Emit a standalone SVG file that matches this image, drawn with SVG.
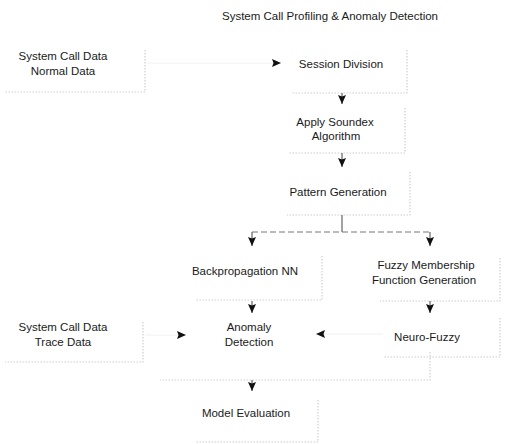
<svg xmlns="http://www.w3.org/2000/svg" width="522" height="444" viewBox="0 0 522 444">
<style>
  .t{font-family:"Liberation Sans",Arial,sans-serif;font-size:11.5px;fill:#1a1a1a;text-anchor:middle;dominant-baseline:central}
  .title{font-size:11.5px}
  .edge{fill:none;stroke:#cfcfcf;stroke-width:1.2;stroke-dasharray:1.5 1.5}
  .c{fill:none;stroke:#444;stroke-width:1}
  .cf{fill:none;stroke:#f0f0f0;stroke-width:1}
  .cd{fill:none;stroke:#777;stroke-width:1;stroke-dasharray:6 3}
</style>
<defs>
  <marker id="ah" markerUnits="userSpaceOnUse" markerWidth="9" markerHeight="9" viewBox="0 0 9 9" refX="9" refY="4.5" orient="auto">
    <path d="M0,0.5 L9,4.5 L0,8.5 L1.5,4.5 z" fill="#111"/>
  </marker>
</defs>
<rect width="522" height="444" fill="#fff"/>
<text class="t title" x="330" y="16">System Call Profiling &amp; Anomaly Detection</text>

<g id="normal">
  <path class="edge" d="M145,50 V92 H5"/>
  <text class="t" x="63" y="56">System Call Data</text>
  <text class="t" x="63" y="71">Normal Data</text>
</g>
<g id="session">
  <path class="edge" d="M407,50 V93 H292"/>
  <text class="t" x="341" y="64">Session Division</text>
</g>
<g id="soundex">
  <path class="edge" d="M405,108 V153 H288"/>
  <text class="t" x="335" y="122">Apply Soundex</text>
  <text class="t" x="336" y="136">Algorithm</text>
</g>
<g id="pattern">
  <path class="edge" d="M410,172 V215 H287"/>
  <text class="t" x="338" y="192">Pattern Generation</text>
</g>
<g id="backprop">
  <path class="edge" d="M322,256 V300 H195"/>
  <text class="t" x="245" y="271">Backpropagation NN</text>
</g>
<g id="fuzzy">
  <path class="edge" d="M500,258 V301 H380"/>
  <text class="t" x="426" y="265">Fuzzy Membership</text>
  <text class="t" x="424" y="280">Function Generation</text>
</g>
<g id="trace">
  <path class="edge" d="M143,322 V362 H5"/>
  <text class="t" x="63" y="327">System Call Data</text>
  <text class="t" x="63" y="342">Trace Data</text>
</g>
<g id="anomaly">
  <path class="edge" d="M430,352 V380 H160"/>
  <text class="t" x="249" y="327">Anomaly</text>
  <text class="t" x="249" y="342">Detection</text>
</g>
<g id="neurofuzzy">
  <path class="edge" d="M500,318 V357 H383"/>
  <text class="t" x="427" y="337">Neuro-Fuzzy</text>
</g>
<g id="model">
  <path class="edge" d="M318,400 V442 H195"/>
  <text class="t" x="246" y="413">Model Evaluation</text>
</g>

<g id="connectors">
  <path class="cf" d="M147,63 H281" marker-end="url(#ah)"/>
  <path class="c" d="M342,93 V104" marker-end="url(#ah)"/>
  <path class="c" d="M342,153 V167" marker-end="url(#ah)"/>
  <path class="c" d="M342,215 V232"/>
  <path class="cd" d="M252,232 H430"/>
  <path class="c" d="M252,232 V246" marker-end="url(#ah)"/>
  <path class="c" d="M430,232 V246" marker-end="url(#ah)"/>
  <path class="c" d="M252,301 V313" marker-end="url(#ah)"/>
  <path class="c" d="M430,301 V313" marker-end="url(#ah)"/>
  <path class="cf" d="M383,334 H316" marker-end="url(#ah)"/>
  <path class="cf" d="M145,335 H186" marker-end="url(#ah)"/>
  <path class="c" d="M252,380 V391" marker-end="url(#ah)"/>
</g>
</svg>
